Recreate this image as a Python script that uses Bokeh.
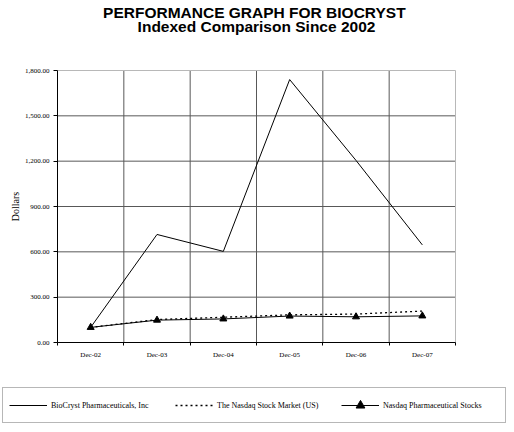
from bokeh.plotting import figure
from bokeh.models import (Range1d, FixedTicker, NumeralTickFormatter, Legend, LegendItem,
                          Label, LinearAxis)
from bokeh.embed import file_html
from bokeh.resources import INLINE

years = ["Dec-02", "Dec-03", "Dec-04", "Dec-05", "Dec-06", "Dec-07"]
biocryst = [100, 715, 603, 1740, 1205, 646]
nasdaq_market = [100, 152, 167, 183, 188, 208]
nasdaq_pharma = [100, 148, 156, 175, 170, 176]
y_ticks = [0, 300, 600, 900, 1200, 1500, 1800]
series_names = ["BioCryst Pharmaceuticals, Inc", "The Nasdaq Stock Market (US)",
                "Nasdaq Pharmaceutical Stocks"]
title_lines = ["PERFORMANCE GRAPH  FOR BIOCRYST", "Indexed Comparison Since 2002"]

xs = list(range(len(years)))
bounds = [i - 0.5 for i in range(len(years) + 1)]

# page layout (pixels): whole canvas is the frame, plot box sits inside it
W, H = 506, 424
BOX_L, BOX_R, BOX_T, BOX_B = 57, 455, 70, 342
ux = (bounds[-1] - bounds[0]) / (BOX_R - BOX_L)
uy = (y_ticks[-1] - y_ticks[0]) / (BOX_B - BOX_T)
x_range = Range1d(bounds[0] - BOX_L * ux, bounds[-1] + (W - BOX_R) * ux)
y_range = Range1d(y_ticks[0] - (H - BOX_B) * uy, y_ticks[-1] + BOX_T * uy)

p = figure(width=W, height=H, output_backend="svg", toolbar_location=None,
           x_range=x_range, y_range=y_range,
           x_axis_location=None, y_axis_location=None,
           min_border_left=0, min_border_right=0, min_border_top=0, min_border_bottom=0)
p.grid.visible = False
p.outline_line_color = None
p.background_fill_color = "white"
p.border_fill_color = "white"

# title lines
for line, base in zip(title_lines, [H - 12, H - 26]):
    p.add_layout(Label(x=(bounds[0] + bounds[-1]) / 2, y=base, y_units="screen", text=line,
                       text_align="center", text_baseline="alphabetic",
                       text_font="Liberation Sans", text_font_size="15.5px",
                       text_font_style="bold", text_color="black"))

# grid lines and plot box edges, from the tick positions
inner_y = y_ticks[1:-1]
inner_x = bounds[1:-1]
p.segment(x0=[bounds[0]] * len(inner_y), y0=inner_y, x1=[bounds[-1]] * len(inner_y), y1=inner_y,
          line_color="#585858", line_width=1)
p.segment(x0=inner_x, y0=[y_ticks[0]] * len(inner_x), x1=inner_x, y1=[y_ticks[-1]] * len(inner_x),
          line_color="#585858", line_width=1)
p.segment(x0=[bounds[0], bounds[-1]], y0=[y_ticks[-1], y_ticks[0]],
          x1=[bounds[-1], bounds[-1]], y1=[y_ticks[-1], y_ticks[-1]],
          line_color="#b8b8b8", line_width=1)

# axes drawn at the plot box edges
xa = LinearAxis(fixed_location=y_ticks[0], bounds=(bounds[0], bounds[-1]))
xa.ticker = FixedTicker(ticks=xs, minor_ticks=bounds)
xa.major_label_overrides = {i: y for i, y in enumerate(years)}
xa.major_tick_line_color = None
xa.major_tick_in = 0
xa.major_tick_out = 0
xa.minor_tick_line_color = "black"
xa.minor_tick_in = 0
xa.minor_tick_out = 3
xa.axis_line_color = "black"
xa.major_label_text_font = "Liberation Serif"
xa.major_label_text_font_size = "7px"
xa.major_label_text_color = "black"
xa.major_label_standoff = 5
p.add_layout(xa, "below")

ya = LinearAxis(fixed_location=bounds[0], bounds=(y_ticks[0], y_ticks[-1]))
ya.ticker = FixedTicker(ticks=y_ticks)
ya.formatter = NumeralTickFormatter(format="0,0.00")
ya.minor_tick_line_color = None
ya.major_tick_in = 0
ya.major_tick_out = 4
ya.axis_line_color = "black"
ya.major_label_text_font = "Liberation Serif"
ya.major_label_text_font_size = "7px"
ya.major_label_text_color = "black"
ya.major_label_standoff = 4
ya.axis_label = "Dollars"
ya.axis_label_text_font = "Liberation Serif"
ya.axis_label_text_font_size = "10px"
ya.axis_label_text_font_style = "normal"
ya.axis_label_text_color = "black"
ya.axis_label_standoff = 1
p.add_layout(ya, "left")

# series
line_styles = [dict(line_color="black", line_width=1),
               dict(line_color="black", line_width=1.3, line_dash="2 3"),
               dict(line_color="black", line_width=1)]
series = [biocryst, nasdaq_market, nasdaq_pharma]
lr = [p.line(xs, vals, **st) for vals, st in zip(series, line_styles)]
lm = p.scatter(xs, nasdaq_pharma, marker="triangle", size=7, fill_color="black", line_color="black")

legend = Legend(items=[LegendItem(label=series_names[0], renderers=[lr[0]]),
                       LegendItem(label=series_names[1], renderers=[lr[1]]),
                       LegendItem(label=series_names[2], renderers=[lr[2], lm])],
                orientation="horizontal", location=(2, 1), margin=0,
                glyph_width=38, glyph_height=22, label_height=22, label_width=116,
                label_standoff=4, spacing=8, padding=6,
                label_text_font="Liberation Serif", label_text_font_size="8px",
                label_text_color="black",
                border_line_color="#707070", border_line_width=1,
                background_fill_alpha=1.0)
p.add_layout(legend, "center")

open("out.html", "w").write(file_html(p, INLINE))
